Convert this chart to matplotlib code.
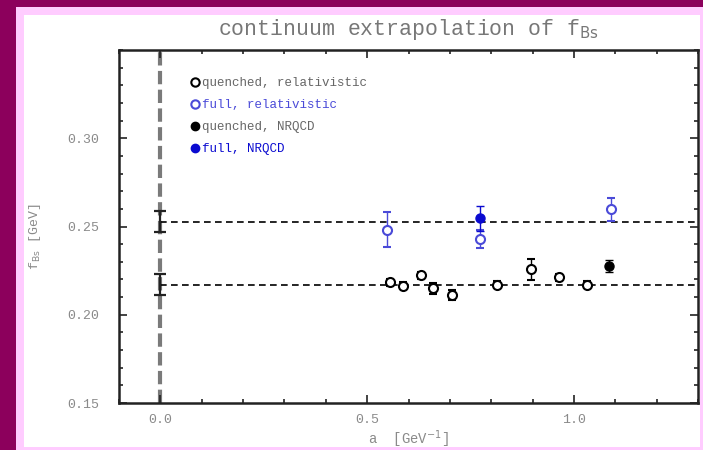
import matplotlib
matplotlib.use("Agg")
import matplotlib.pyplot as plt
from matplotlib.patches import Rectangle
from matplotlib.lines import Line2D
from matplotlib.ticker import MultipleLocator, FixedLocator

# continuum results at a = 0
cont_a = [0.0, 0.0]
cont_f = [0.2528, 0.2170]
cont_err = [0.006, 0.006]

# quenched, relativistic
qr_a = [0.555, 0.587, 0.630, 0.659, 0.704, 0.815, 0.897, 0.964, 1.031]
qr_f = [0.2185, 0.2165, 0.2225, 0.2150, 0.2112, 0.2170, 0.2258, 0.2213, 0.2170]
qr_err = [0.002, 0.002, 0.002, 0.003, 0.003, 0.002, 0.006, 0.002, 0.002]

# full, relativistic
fr_a = [0.548, 0.772, 1.089]
fr_f = [0.2483, 0.2429, 0.2597]
fr_err = [0.0100, 0.0053, 0.0065]

# quenched, NRQCD
qn_a = [1.084]
qn_f = [0.2275]
qn_err = [0.0035]

# full, NRQCD
fn_a = [0.772]
fn_f = [0.2547]
fn_err = [0.0070]

legend_labels = ["quenched, relativistic", "full, relativistic",
                 "quenched, NRQCD", "full, NRQCD"]

mono = ["Liberation Mono", "DejaVu Sans Mono"]
txt_col = "#8a8a8a"
blue_open = "#4a4ad8"
blue_fill = "#0a0ad0"

fig = plt.figure(figsize=(7.03, 4.5), dpi=100)
fig.patch.set_facecolor("#8c005c")
fig.patches.append(Rectangle((16 / 703, 0), 687 / 703, 443 / 450,
                             transform=fig.transFigure, facecolor="#ffccff",
                             edgecolor="none", zorder=-3))
fig.patches.append(Rectangle((24 / 703, 3 / 450), 676 / 703, 432 / 450,
                             transform=fig.transFigure, facecolor="white",
                             edgecolor="none", zorder=-2))

ax = fig.add_axes([119 / 703, 1 - 403 / 450, 579 / 703, 353 / 450])
ax.set_facecolor("white")
ax.set_xlim(-0.1, 1.3)
ax.set_ylim(0.15, 0.35)

# a = 0 marker line
ax.axvline(0.0, color="#7a7a7a", lw=3.0, ls=(0, (3.2, 1.3)), zorder=1)

# fitted continuum values
ax.plot([0.0, 1.3], [cont_f[0], cont_f[0]], color="black", lw=1.2,
        ls=(0, (4, 2.6)), zorder=2)
ax.plot([0.0, 1.3], [cont_f[1], cont_f[1]], color="black", lw=1.2,
        ls=(0, (4, 2.6)), zorder=2)
ax.errorbar(cont_a, cont_f, yerr=cont_err, fmt="none", ecolor="#222222",
            elinewidth=1.6, capsize=4, capthick=1.6, zorder=3)

ms = 6.5
ax.errorbar(qr_a, qr_f, yerr=qr_err, fmt="o", mfc="white", mec="black",
            mew=1.5, ms=ms, ecolor="black", elinewidth=1.0, capsize=3, zorder=4)
ax.errorbar(fr_a, fr_f, yerr=fr_err, fmt="o", mfc="white", mec=blue_open,
            mew=1.5, ms=ms, ecolor=blue_open, elinewidth=1.0, capsize=3, zorder=4)
ax.errorbar(qn_a, qn_f, yerr=qn_err, fmt="o", mfc="black", mec="black",
            ms=ms, ecolor="black", elinewidth=1.0, capsize=3, zorder=5)
ax.errorbar(fn_a, fn_f, yerr=fn_err, fmt="o", mfc=blue_fill, mec=blue_fill,
            ms=ms, ecolor=blue_fill, elinewidth=1.0, capsize=3, zorder=5)

# axis styling
for sp in ax.spines.values():
    sp.set_linewidth(1.8)
    sp.set_color("#222222")
ax.xaxis.set_major_locator(FixedLocator([0.0, 0.5, 1.0]))
ax.xaxis.set_minor_locator(MultipleLocator(0.1))
ax.yaxis.set_major_locator(FixedLocator([0.15, 0.20, 0.25, 0.30]))
ax.yaxis.set_minor_locator(MultipleLocator(0.01))
ax.tick_params(which="both", direction="in", top=True, right=True,
               color="#222222", width=1.2)
ax.tick_params(which="major", length=6)
ax.tick_params(which="minor", length=3)
ax.tick_params(axis="x", pad=8)
ax.tick_params(axis="y", pad=14)
ax.set_xticklabels(["0.0", "0.5", "1.0"])
ax.set_yticklabels(["0.15", "0.20", "0.25", "0.30"])
for lab in ax.get_xticklabels() + ax.get_yticklabels():
    lab.set_fontfamily(mono)
    lab.set_fontsize(9.5)
    lab.set_color(txt_col)

ax.set_xlabel(r"a  [GeV$^{-1}$]", fontfamily=mono, fontsize=10,
              color=txt_col, labelpad=2)
ax.set_ylabel(r"f$_{\mathrm{Bs}}$ [GeV]", fontfamily=mono, fontsize=9.5,
              color=txt_col)
ax.yaxis.set_label_coords(-0.132, 0.47)
ax.set_title(r"continuum extrapolation of f$_{\mathrm{Bs}}$", fontfamily=mono,
             fontsize=15.5, color="#777777", pad=11)

handles = [
    Line2D([], [], ls="none", marker="o", mfc="white", mec="black", mew=1.5, ms=6),
    Line2D([], [], ls="none", marker="o", mfc="white", mec=blue_open, mew=1.5, ms=6),
    Line2D([], [], ls="none", marker="o", mfc="black", mec="black", ms=6),
    Line2D([], [], ls="none", marker="o", mfc=blue_fill, mec=blue_fill, ms=6),
]
leg = ax.legend(handles, legend_labels, loc="upper left",
                bbox_to_anchor=(0.105, 0.955), frameon=False,
                handlelength=0.6, handletextpad=0.3, labelspacing=0.8,
                prop={"family": mono, "size": 9})
leg_cols = ["#666666", blue_open, "#666666", blue_fill]
for t, c in zip(leg.get_texts(), leg_cols):
    t.set_color(c)

fig.savefig("out.png", dpi=100, facecolor=fig.get_facecolor())
